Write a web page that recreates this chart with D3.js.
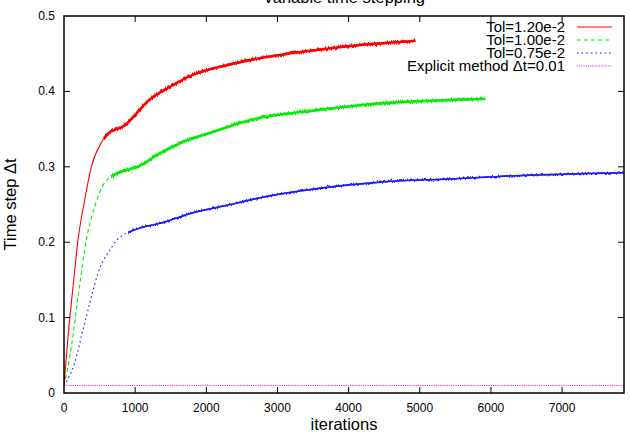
<!DOCTYPE html>
<html><head><meta charset="utf-8">
<script src="https://cdn.jsdelivr.net/npm/d3@7"></script>
<style>
html,body{margin:0;padding:0;background:#fff;}
text{font-family:"Liberation Sans",Arial,sans-serif;fill:#000;}
</style></head>
<body>
<svg id="chart" width="630" height="438"></svg>
<script>
// ---- data ----
const xTicks = [0, 1000, 2000, 3000, 4000, 5000, 6000, 7000];
const yTicks = [0, 0.1, 0.2, 0.3, 0.4, 0.5];
const yTickLabels = ["0", "0.1", "0.2", "0.3", "0.4", "0.5"];
const xMax = 7870;

const seriesNames = ["Tol=1.20e-2", "Tol=1.00e-2", "Tol=0.75e-2", "Explicit method \u0394t=0.01"];

const iterRed = [0, 56, 127, 197, 291, 384, 525, 647, 713, 853, 1040, 1167, 1490, 1814, 2292, 2757, 3300, 3554, 4000, 4490, 4937];
const valRed  = [0.010, 0.074, 0.141, 0.203, 0.256, 0.300, 0.332, 0.346, 0.349, 0.355, 0.373, 0.386, 0.406, 0.422, 0.435, 0.444, 0.452, 0.455, 0.460, 0.464, 0.467];

const iterGreen = [0, 103, 197, 314, 431, 572, 760, 1040, 1350, 1674, 2053, 2616, 3554, 4444, 5000, 5500, 5920];
const valGreen  = [0.010, 0.061, 0.127, 0.203, 0.247, 0.279, 0.292, 0.300, 0.318, 0.333, 0.345, 0.362, 0.375, 0.384, 0.387, 0.389, 0.390];

const iterBlue = [0, 150, 267, 384, 478, 661, 745, 1040, 1350, 1814, 2292, 2757, 3554, 4490, 5430, 6556, 7870];
const valBlue  = [0.010, 0.040, 0.084, 0.127, 0.159, 0.192, 0.203, 0.218, 0.225, 0.239, 0.249, 0.259, 0.271, 0.280, 0.284, 0.289, 0.292];

const iterExplicit = [0, 7870];
const valExplicit  = [0.01, 0.01];

// iteration from which each adaptive run becomes noisy
const noiseFrom = [560, 660, 900];

// ---- layout ----
const W = 630, H = 438;
const m = {left: 64, right: 6, top: 16, bottom: 45};
const svg = d3.select("#chart");
const x = d3.scaleLinear().domain([0, xMax]).range([m.left, W - m.right]);
const y = d3.scaleLinear().domain([0, 0.5]).range([H - m.bottom, m.top]);

const colors = ["#ff0000", "#00ee00", "#1a1aff", "#ff00ff"];
const dashes = [null, "4,3", "1.6,3", "1,1.2"];

const series = [
  {it: iterRed, v: valRed},
  {it: iterGreen, v: valGreen},
  {it: iterBlue, v: valBlue},
  {it: iterExplicit, v: valExplicit}
].map(s => s.it.map((d, i) => ({x: d, y: s.v[i]})));

const line = d3.line().x(d => x(d.x)).y(d => y(d.y)).curve(d3.curveMonotoneX);

const defs = svg.append("defs");
defs.append("clipPath").attr("id", "clip").append("rect")
  .attr("x", m.left).attr("y", m.top)
  .attr("width", W - m.left - m.right).attr("height", H - m.top - m.bottom);

// jagged texture for the noisy parts of the curves
const f = defs.append("filter").attr("id", "jit")
  .attr("filterUnits", "userSpaceOnUse")
  .attr("x", 0).attr("y", 0).attr("width", W).attr("height", H);
f.append("feTurbulence").attr("type", "fractalNoise").attr("baseFrequency", "0.8 0.03")
  .attr("numOctaves", 2).attr("seed", 4).attr("result", "n");
f.append("feColorMatrix").attr("in", "n").attr("type", "matrix")
  .attr("values", "0 0 0 0 0.5  0 1 0 0 0  0 0 0 0 0  0 0 0 0 1").attr("result", "n2");
f.append("feDisplacementMap").attr("in", "SourceGraphic").attr("in2", "n2")
  .attr("scale", 5).attr("xChannelSelector", "R").attr("yChannelSelector", "G");

const g = svg.append("g").attr("clip-path", "url(#clip)");

// explicit method line
g.append("path").datum(series[3]).attr("d", line)
  .attr("fill", "none").attr("stroke", colors[3]).attr("stroke-width", 1)
  .attr("stroke-dasharray", dashes[3]);

// adaptive runs: thin styled part + noisy thicker part
[2, 1, 0].forEach(k => {
  const data = series[k];
  const path = g.append("path").datum(data).attr("d", line)
    .attr("fill", "none").attr("stroke", colors[k]).attr("stroke-width", 1.1);
  if (dashes[k]) path.attr("stroke-dasharray", dashes[k]);
  const node = path.node();
  const total = node.getTotalLength();
  const xs = x(noiseFrom[k]);
  let lo = 0, hi = total;
  for (let i = 0; i < 40; i++) {
    const mid = (lo + hi) / 2;
    if (node.getPointAtLength(mid).x < xs) lo = mid; else hi = mid;
  }
  const start = lo;
  const segLen = total - start;
  const gg = g.append("g");
  gg.append("path").datum(data).attr("d", line)
    .attr("fill", "none").attr("stroke", colors[k])
    .attr("stroke-width", k === 2 ? 1.6 : 2.3)
    .attr("stroke-dasharray", `0,${start},${segLen + 10}`);
  gg.append("path").datum(data).attr("d", line)
    .attr("fill", "none").attr("stroke", colors[k])
    .attr("stroke-width", k === 2 ? 1.4 : 2.6)
    .attr("filter", "url(#jit)")
    .attr("stroke-dasharray", `0,${start},${segLen + 10}`);
});

// border
svg.append("rect").attr("x", m.left).attr("y", m.top)
  .attr("width", W - m.left - m.right).attr("height", H - m.top - m.bottom)
  .attr("fill", "none").attr("stroke", "#000").attr("stroke-width", 1.5);

// ticks (inside, mirrored)
const tl = 6;
const tg = svg.append("g").attr("stroke", "#000").attr("stroke-width", 1);
xTicks.forEach(t => {
  if (t === 0) return;
  tg.append("line").attr("x1", x(t)).attr("x2", x(t)).attr("y1", y(0)).attr("y2", y(0) - tl);
  tg.append("line").attr("x1", x(t)).attr("x2", x(t)).attr("y1", y(0.5)).attr("y2", y(0.5) + tl);
});
yTicks.forEach(t => {
  if (t === 0 || t === 0.5) return;
  tg.append("line").attr("x1", x(0)).attr("x2", x(0) + tl).attr("y1", y(t)).attr("y2", y(t));
  tg.append("line").attr("x1", x(xMax)).attr("x2", x(xMax) - tl).attr("y1", y(t)).attr("y2", y(t));
});

// tick labels
svg.append("g").selectAll("text").data(xTicks).join("text")
  .attr("x", d => x(d)).attr("y", y(0) + 19).attr("text-anchor", "middle")
  .attr("font-size", 12).text(d => d);
svg.append("g").selectAll("text").data(yTicks).join("text")
  .attr("x", m.left - 9).attr("y", d => y(d) + 4).attr("text-anchor", "end")
  .attr("font-size", 12).text((d, i) => yTickLabels[i]);

// axis labels & title
svg.append("text").attr("x", (m.left + W - m.right) / 2).attr("y", 430)
  .attr("text-anchor", "middle").attr("font-size", 16.5).text("iterations");
svg.append("text").attr("transform", `translate(16,${(m.top + H - m.bottom) / 2}) rotate(-90)`)
  .attr("text-anchor", "middle").attr("font-size", 16.5).text("Time step \u0394t");
svg.append("text").attr("x", (m.left + W - m.right) / 2).attr("y", 3)
  .attr("text-anchor", "middle").attr("font-size", 16.5).text("Variable time stepping");

// legend
const lg = svg.append("g");
seriesNames.forEach((name, i) => {
  const cy = 27 + i * 13;
  lg.append("text").attr("x", 565).attr("y", cy + 5).attr("text-anchor", "end")
    .attr("font-size", 15).text(name);
  const l = lg.append("line").attr("x1", 577).attr("x2", 612).attr("y1", cy).attr("y2", cy)
    .attr("stroke", colors[i]).attr("stroke-width", 1.1);
  if (dashes[i]) l.attr("stroke-dasharray", dashes[i]);
});
</script>
</body></html>
